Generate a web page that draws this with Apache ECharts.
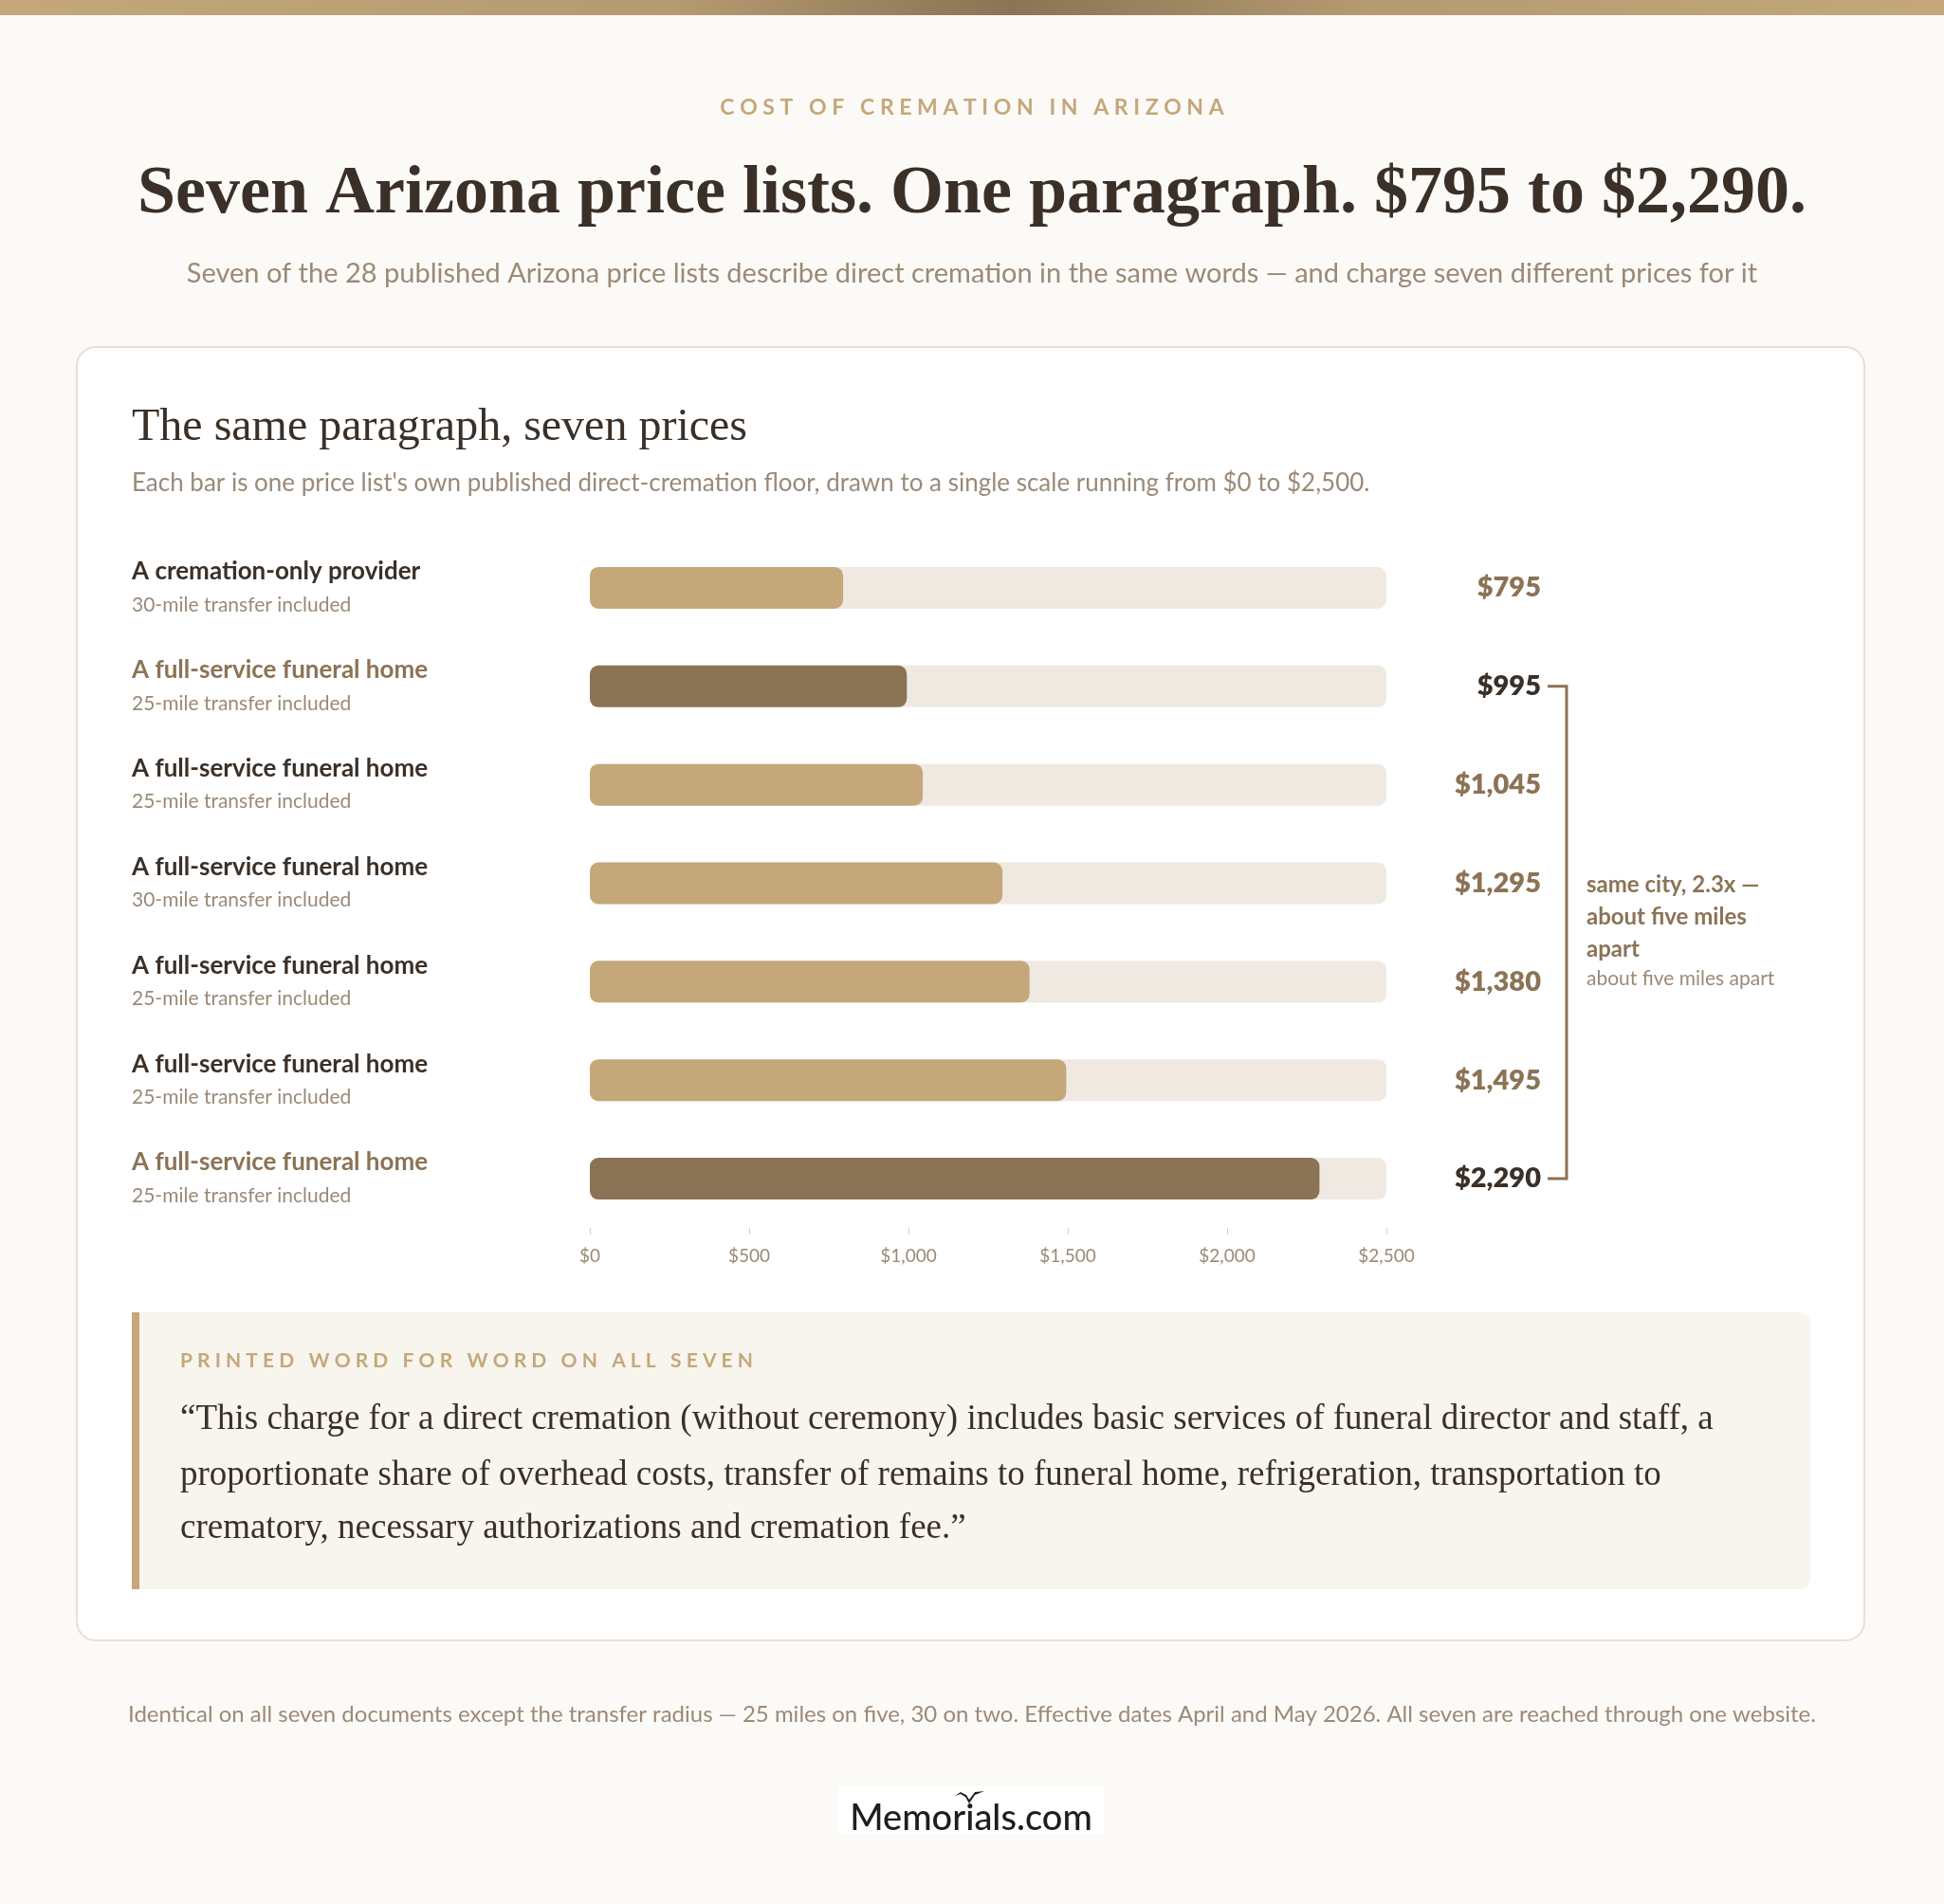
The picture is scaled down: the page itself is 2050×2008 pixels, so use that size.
<!DOCTYPE html>
<html><head><meta charset="utf-8">
<script src="https://cdn.jsdelivr.net/npm/echarts@6/dist/echarts.min.js"></script>
<style>html,body{margin:0;padding:0;background:#fcfaf6}#c{width:2050px;height:2008px}</style>
</head><body><div id="c"></div>
<script>
const providers = ["A cremation-only provider","A full-service funeral home","A full-service funeral home","A full-service funeral home","A full-service funeral home","A full-service funeral home","A full-service funeral home"];
const transfers = ["30-mile transfer included","25-mile transfer included","25-mile transfer included","30-mile transfer included","25-mile transfer included","25-mile transfer included","25-mile transfer included"];
const prices = [795, 995, 1045, 1295, 1380, 1495, 2290];
const highlighted = [false, true, false, false, false, false, true];
const scaleMax = 2500;
const tickValues = [0, 500, 1000, 1500, 2000, 2500];

const SANS = 'Lato, "Noto Sans", sans-serif';
const SERIF = '"Liberation Serif", serif';
const GOLD = '#c4a87a', BROWN = '#8b7355', DARK = '#3a3028', MUTED = '#9a8a78';
const fmt = v => '$' + v.toLocaleString('en-US');
const cats = providers.map((p, i) => i + '');

const GRID_TOP = 568, GRID_BOTTOM_Y = 1295;
const band = (GRID_BOTTOM_Y - GRID_TOP) / providers.length;
const rowY = i => GRID_TOP + (i + 0.5) * band;
const hi = highlighted.map((h, i) => h ? i : -1).filter(i => i >= 0);
const y1 = rowY(hi[0]), y2 = rowY(hi[hi.length - 1]);

const chart = echarts.init(document.getElementById('c'));
const T = (x, y, text, size, weight, fill, family, extra) => ({type: 'text', x, y, silent: true,
  style: Object.assign({text, fontSize: size, fontWeight: weight, fill, fontFamily: family || SANS, verticalAlign: 'middle'}, extra || {})});

const graphics = [
  {type: 'rect', shape: {x: 0, y: 0, width: 2050, height: 16}, style: {fill: new echarts.graphic.LinearGradient(0, 0, 1, 0, [
    {offset: 0, color: '#c4a87a'}, {offset: 0.35, color: '#b39a70'}, {offset: 0.52, color: '#8b7355'}, {offset: 0.7, color: '#b39a70'}, {offset: 1, color: '#c4a87a'}])}},
  T(1025, 114, 'C O S T   O F   C R E M A T I O N   I N   A R I Z O N A', 23, 700, GOLD, SANS, {align: 'center'}),
  T(1025, 205, 'Seven Arizona price lists. One paragraph. $795 to $2,290.', 72, 600, DARK, SERIF, {align: 'center'}),
  T(1025, 289, 'Seven of the 28 published Arizona price lists describe direct cremation in the same words \u2014 and charge seven different prices for it', 29, 400, MUTED, SANS, {align: 'center'}),
  {type: 'rect', z: -10, shape: {x: 81, y: 366, width: 1885, height: 1364, r: 20}, style: {fill: '#ffffff', stroke: '#e8e0d4', lineWidth: 2}},
  T(139, 451, 'The same paragraph, seven prices', 48, 500, DARK, SERIF),
  T(139, 510, "Each bar is one price list's own published direct-cremation floor, drawn to a single scale running from $0 to $2,500.", 26, 400, MUTED),
  {type: 'rect', z: -5, shape: {x: 139, y: 1384, width: 1770, height: 292, r: [0, 12, 12, 0]}, style: {fill: '#f8f4ee'}},
  {type: 'rect', z: -4, shape: {x: 139, y: 1384, width: 8, height: 292}, style: {fill: GOLD}},
  T(190, 1435, 'P R I N T E D   W O R D   F O R   W O R D   O N   A L L   S E V E N', 21, 700, GOLD),
  T(190, 1497, '\u201cThis charge for a direct cremation (without ceremony) includes basic services of funeral director and staff, a', 37, 400, DARK, SERIF),
  T(190, 1556, 'proportionate share of overhead costs, transfer of remains to funeral home, refrigeration, transportation to', 37, 400, DARK, SERIF),
  T(190, 1612, 'crematory, necessary authorizations and cremation fee.\u201d', 37, 400, DARK, SERIF),
  T(1025, 1808, 'Identical on all seven documents except the transfer radius \u2014 25 miles on five, 30 on two. Effective dates April and May 2026. All seven are reached through one website.', 24, 400, MUTED, SANS, {align: 'center'}),
  {type: 'rect', z: -5, shape: {x: 884, y: 1884, width: 280, height: 50}, style: {fill: '#ffffff'}},
  T(1024, 1918, 'Memorials.com', 38, 500, '#1e1e1e', SANS, {align: 'center'}),
  {type: 'polygon', shape: {points: [[1007, 1894], [1013, 1890], [1019, 1893], [1022, 1898], [1028, 1890], [1038, 1889], [1028, 1893], [1022, 1902], [1018, 1895], [1013, 1892]]}, style: {fill: '#1e1e1e'}},
  T(1673, 933, 'same city, 2.3x \u2014', 24, 700, BROWN),
  T(1673, 967, 'about five miles', 24, 700, BROWN),
  T(1673, 1001, 'apart', 24, 700, BROWN),
  T(1673, 1032, 'about five miles apart', 21, 400, MUTED),
  {type: 'polyline', shape: {points: [[1632, y1], [1652, y1], [1652, y2], [1632, y2]]}, style: {stroke: BROWN, lineWidth: 3, fill: 'none'}}
];

chart.setOption({
  animation: false,
  backgroundColor: '#fcfaf6',
  grid: {left: 622, right: 588, top: GRID_TOP, bottom: 2008 - GRID_BOTTOM_Y},
  xAxis: {type: 'value', min: 0, max: scaleMax, interval: 500, splitLine: {show: false},
    axisLine: {show: false}, axisTick: {show: true, length: 7, lineStyle: {color: '#d8cfc4'}},
    axisLabel: {margin: 20, color: MUTED, fontFamily: SANS, fontSize: 19, formatter: v => tickValues.includes(v) ? fmt(v) : ''}},
  yAxis: {type: 'category', data: cats, inverse: true, axisLine: {show: false}, axisTick: {show: false},
    axisLabel: {margin: 483, align: 'left', formatter: v => '{' + (highlighted[+v] ? 'th' : 't') + '|' + providers[+v] + '}\n{s|' + transfers[+v] + '}',
      rich: {t: {fontFamily: SANS, fontWeight: 700, fontSize: 26, color: DARK, lineHeight: 36},
             th: {fontFamily: SANS, fontWeight: 700, fontSize: 26, color: BROWN, lineHeight: 36},
             s: {fontFamily: SANS, fontSize: 21, color: MUTED, lineHeight: 34}}}},
  series: [
    {type: 'bar', barWidth: 44, barGap: '-100%', silent: true, z: 1,
      data: prices.map((v, i) => ({value: scaleMax, label: {color: highlighted[i] ? DARK : BROWN}})),
      itemStyle: {color: '#efe9e2', borderRadius: 9},
      label: {show: true, position: 'right', distance: 163, align: 'right', verticalAlign: 'middle',
        formatter: p => fmt(prices[p.dataIndex]), fontFamily: SANS, fontWeight: 800, fontSize: 29, color: BROWN}},
    {type: 'bar', data: prices.map((v, i) => ({value: v, itemStyle: {color: highlighted[i] ? BROWN : GOLD}})),
      barWidth: 44, silent: true, z: 2, itemStyle: {borderRadius: 9}}
  ],
  graphic: {elements: graphics}
});
</script></body></html>
